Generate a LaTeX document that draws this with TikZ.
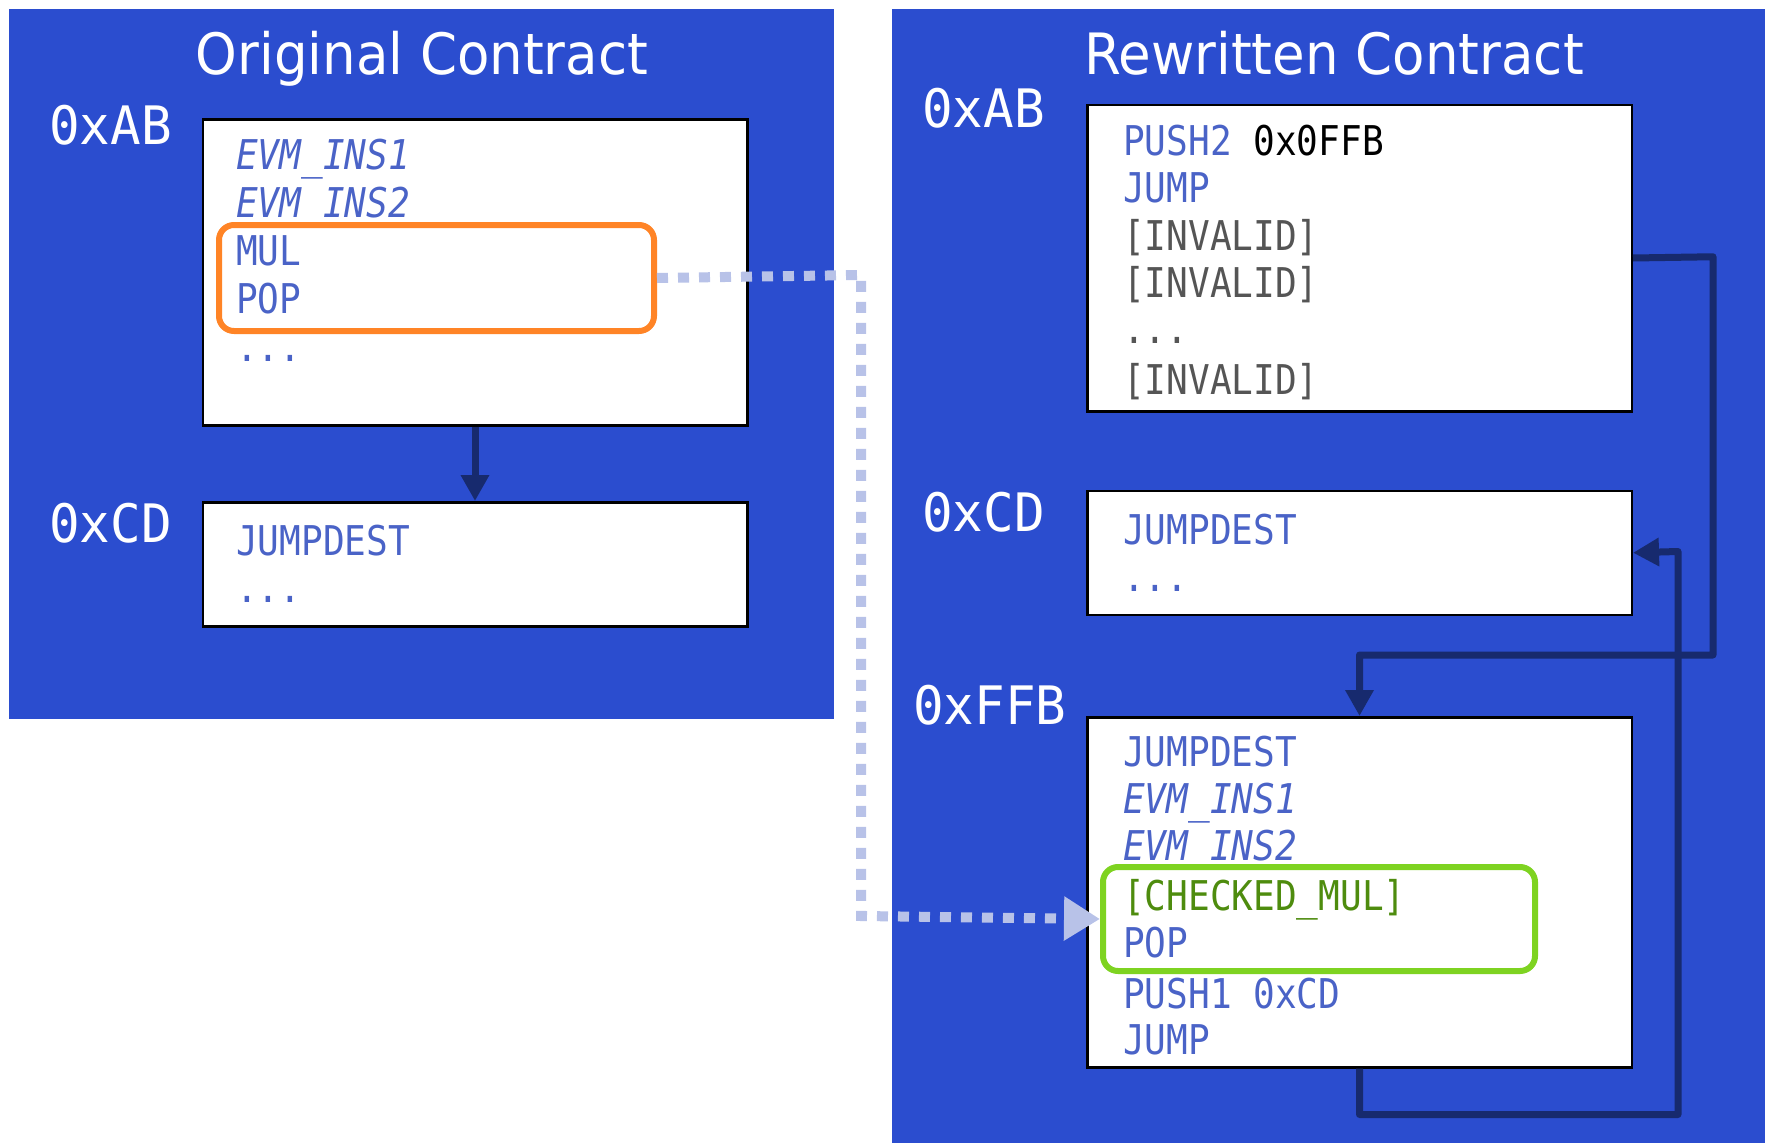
\documentclass[tikz,border=0pt]{standalone}
\usepackage{fontspec}
\usetikzlibrary{arrows.meta}
\newfontfamily\codefont[FakeStretch=0.88]{DejaVu Sans Mono}
\newfontfamily\addrfont[FakeStretch=0.96]{DejaVu Sans Mono}
\newfontfamily\titlefont[FakeStretch=0.93]{DejaVu Sans}
\definecolor{panelblue}{RGB}{43,77,207}
\definecolor{codeblue}{RGB}{74,99,199}
\definecolor{invgray}{RGB}{85,85,85}
\definecolor{chkgreen}{RGB}{78,140,14}
\definecolor{hlgreen}{RGB}{126,211,33}
\definecolor{hlorange}{RGB}{255,132,38}
\definecolor{navy}{RGB}{23,42,110}
\definecolor{lavender}{RGB}{184,194,232}
\begin{document}
\begin{tikzpicture}[x=1pt,y=-1pt,
  codebox/.style={draw=black, line width=2.5pt, fill=white, inner sep=0pt,
    minimum width=544.5pt, anchor=north west},
  hlbox/.style={line width=6pt, rounded corners=15pt, inner sep=0pt, anchor=north west},
  code/.style={font=\codefont\fontsize{41}{41}\selectfont, anchor=base west, inner sep=0pt, text=codeblue},
  addr/.style={font=\addrfont\fontsize{53}{53}\selectfont, anchor=base west, inner sep=0pt, text=white},
  ttl/.style={font=\titlefont\fontsize{57}{57}\selectfont, anchor=base, inner sep=0pt, text=white},
  navyline/.style={draw=navy, line width=7pt, line join=round, -{Triangle[length=26pt,width=27pt]}},
  dotline/.style={draw=lavender, line width=10pt, dash pattern=on 11pt off 10pt, -{Triangle[length=36pt,width=42pt]}}
]
\useasboundingbox (0,0) rectangle (1765,1143);
\fill[white] (0,0) rectangle (1765,1143);
% panels
\fill[panelblue] (9,9) rectangle (834,719);
\fill[panelblue] (891.5,9) rectangle (1765,1143);
\node[ttl] (t1) at (422,74) {Original Contract};
\node[ttl] (t2) at (1334,74) {Rewritten Contract};
% address labels
\node[addr] (la1) at (49,144) {0xAB};
\node[addr] (la2) at (49,542) {0xCD};
\node[addr] (lb1) at (922,127) {0xAB};
\node[addr] (lb2) at (922,531) {0xCD};
\node[addr] (lb3) at (913,724) {0xFFB};
% boxes
\node[codebox, minimum height=306pt] (A1) at (201.5,118) {};
\node[codebox, minimum height=124pt] (A2) at (201.5,501) {};
\node[codebox, minimum height=306.5pt] (B1) at (1086,103.5) {};
\node[codebox, minimum height=124pt] (B2) at (1086,489.5) {};
\node[codebox, minimum height=350pt] (B3) at (1086,716) {};
% original code
\node[code] (a11) at (236,169) {\itshape EVM\_INS1};
\node[code] (a12) at (236,217) {\itshape EVM\_INS2};
\node[code] (a13) at (236,265) {MUL};
\node[code] (a14) at (236,313) {POP};
\node[code] (a15) at (236,361) {...};
\node[code] (a21) at (236,555) {JUMPDEST};
\node[code] (a22) at (236,602) {...};
% rewritten code
\node[code] (b11) at (1123,155) {PUSH2 \textcolor{black}{0x0FFB}};
\node[code] (b12) at (1123,202) {JUMP};
\node[code, text=invgray] (b13) at (1123,250) {[INVALID]};
\node[code, text=invgray] (b14) at (1123,297.5) {[INVALID]};
\node[code, text=invgray] (b15) at (1123,343) {...};
\node[code, text=invgray] (b16) at (1123,394) {[INVALID]};
\node[code] (b21) at (1123,544) {JUMPDEST};
\node[code] (b22) at (1123,591) {...};
\node[code] (b31) at (1123,766) {JUMPDEST};
\node[code] (b32) at (1123,813) {\itshape EVM\_INS1};
\node[code] (b33) at (1123,860) {\itshape EVM\_INS2};
\node[code, text=chkgreen] (b34) at (1123,910) {[CHECKED\_MUL]};
\node[code] (b35) at (1123,957) {POP};
\node[code] (b36) at (1123,1008) {PUSH1 0xCD};
\node[code] (b37) at (1123,1054) {JUMP};
% highlight boxes (drawn over the text, as in the original)
\node[hlbox, draw=hlorange, minimum width=435pt, minimum height=106pt] (orangebox) at (216,222) {};
\node[hlbox, draw=hlgreen, minimum width=432pt, minimum height=104pt] (greenbox) at (1100,864) {};
% connectors
\draw[navyline] (A1.south) -- (A2.north);
\coordinate (c1a) at (1713,256.75);
\coordinate (c1b) at (1713,655);
\draw[navyline] (B1.east) -- (c1a) -- (c1b) -| (B3.north);
\coordinate (c2a) at (1678,1114.5);
\coordinate (c2b) at (1678,551.5);
\draw[navyline] (B3.south) |- (c2a) -- (c2b) -- (B2.east);
\coordinate (d1) at (861,275);
\coordinate (d2) at (861,916);
\draw[dotline] (orangebox.east) -- (d1) -- (d2) -- (greenbox.west);
\end{tikzpicture}
\end{document}
